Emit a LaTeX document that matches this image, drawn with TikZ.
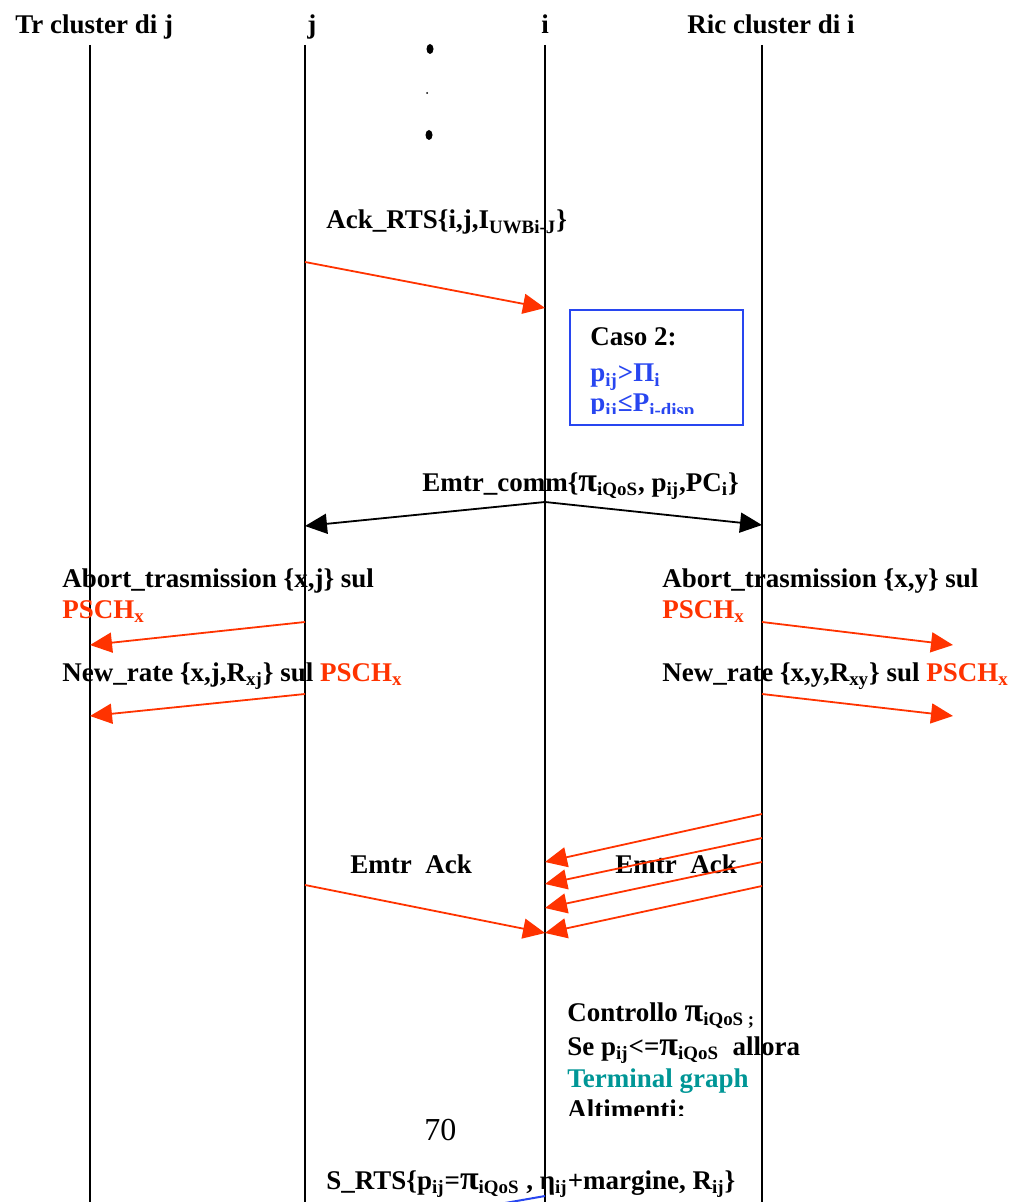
\documentclass[tikz,border=0pt]{standalone}
\usepackage{fontspec}
\setmainfont{Liberation Serif}
\usetikzlibrary{arrows.meta}
\definecolor{msgred}{RGB}{255,51,0}
\definecolor{boxblue}{RGB}{40,70,240}
\definecolor{tealtxt}{RGB}{0,150,150}
\newcommand{\sbs}[1]{\textsubscript{#1}}
\newcommand{\bigpi}{{\fontsize{17}{18}\selectfont π}}
\tikzset{
  txt/.style={anchor=base west, inner sep=0pt, font=\fontsize{13.5}{16}\selectfont\bfseries},
  life/.style={line width=1pt},
  redmsg/.style={draw=msgred, line width=0.9pt, -{Triangle[length=11pt,width=10pt]}},
  blkmsg/.style={line width=0.9pt, -{Triangle[length=11pt,width=10pt]}},
}
\begin{document}
\begin{tikzpicture}[x=0.5pt,y=-0.5pt]
		\useasboundingbox (0,0) rectangle (1023,1202);
		% header of each lifeline
		\node[txt] (hTr) at (15,34) {Tr cluster di j};
		\node[txt] (hj) at (307,34) {j};
		\node[txt] (hi) at (541,34) {i};
		\node[txt] (hRic) at (687,34) {Ric cluster di i};
		\foreach \n/\x in {tr/90,j/305,i/545,ric/762} {
			\coordinate (\n top) at (\x,45);
			\coordinate (\n bot) at (\x,1210);
			\draw[life] (\n top) -- (\n bot);
		}
		% dots
		\fill (430,49) ellipse [x radius=3.5, y radius=5];
		\fill (427,93) circle [radius=1];
		\fill (429,135) ellipse [x radius=3.5, y radius=5];
		% Ack_RTS
		\node[txt] (ackrts) at (326,229) {Ack\_RTS\{i,j,I\sbs{UWBi-J}\}};
		\coordinate (jA) at (305,262);
		\coordinate (iA) at (545,308);
		\draw[redmsg] (jA) -- (iA);
		% caso 2
		\begin{scope}
			\clip (570,310) rectangle (743,414);
			\node[txt] (caso) at (590,346) {Caso 2:};
			\node[txt, text=boxblue] (cond1) at (590,382) {p\sbs{ij}>Π\sbs{i}};
			\node[txt, text=boxblue] (cond2) at (590,412) {p\sbs{ij}≤P\sbs{i-disp}};
		\end{scope}
		\draw[boxblue, line width=1pt] (570,310) rectangle (743,425);
		% Emtr_comm
		\node[txt] (comm) at (422,491) {Emtr\_comm\{\bigpi\sbs{iQoS}, p\sbs{ij},PC\sbs{i}\}};
		\coordinate (iC) at (545,502);
		\coordinate (jC) at (305,526);
		\coordinate (ricC) at (762,525);
		\draw[blkmsg] (iC) -- (jC);
		\draw[blkmsg] (iC) -- (ricC);
		% abort and new rate, left side
		\node[txt] (abortL) at (62,587) {Abort\_trasmission \{x,j\} sul};
		\node[txt, text=msgred] (pschL) at (62,618) {PSCH\sbs{x}};
		\node[txt] (rateL) at (62,681) {New\_rate \{x,j,R\sbs{xj}\} sul \textcolor{msgred}{PSCH\sbs{x}}};
		\coordinate (jD) at (305,622);
		\coordinate (trD) at (90,645);
		\coordinate (jE) at (305,694);
		\coordinate (trE) at (90,716);
		\draw[redmsg] (jD) -- (trD);
		\draw[redmsg] (jE) -- (trE);
		% abort and new rate, right side
		\node[txt] (abortR) at (662,587) {Abort\_trasmission \{x,y\} sul};
		\node[txt, text=msgred] (pschR) at (662,618) {PSCH\sbs{x}};
		\node[txt] (rateR) at (662,681) {New\_rate \{x,y,R\sbs{xy}\} sul \textcolor{msgred}{PSCH\sbs{x}}};
		\coordinate (ricD) at (762,622);
		\coordinate (outD) at (953,645);
		\coordinate (ricE) at (762,694);
		\coordinate (outE) at (953,716);
		\draw[redmsg] (ricD) -- (outD);
		\draw[redmsg] (ricE) -- (outE);
		% Emtr Ack
		\node[txt] (ackL) at (350,873) {Emtr\ \ Ack};
		\node[txt] (ackR) at (615,873) {Emtr\ \ Ack};
		\coordinate (jF) at (305,885);
		\coordinate (iF) at (545,933);
		\draw[redmsg] (jF) -- (iF);
		\foreach \k/\ya/\yb in {1/814/862,2/838/884,3/862/908,4/886/933} {
			\coordinate (ric\k) at (762,\ya);
			\coordinate (i\k) at (545,\yb);
			\draw[redmsg] (ric\k) -- (i\k);
		}
		% controllo
		\begin{scope}
			\clip (560,990) rectangle (800,1115);
			\node[txt] (ctrl1) at (567,1021) {Controllo \bigpi\sbs{iQoS ;}};
			\node[txt] (ctrl2) at (567,1055) {Se p\sbs{ij}<=\bigpi\sbs{iQoS}\ \ allora};
			\node[txt, text=tealtxt] (ctrl3) at (567,1087) {Terminal graph};
			\node[txt] (ctrl4) at (567,1118) {Altimenti:};
		\end{scope}
		\node[anchor=base west, inner sep=0pt, font=\fontsize{16}{18}\selectfont] (pag) at (424,1140) {70};
		% S_RTS
		\node[txt] (srts) at (326,1189) {S\_RTS\{p\sbs{ij}=\bigpi\sbs{iQoS} , η\sbs{ij}+margine, R\sbs{ij}\}};
		\coordinate (iG) at (545,1196);
		\coordinate (outG) at (488,1206);
		\draw[boxblue, line width=1pt] (iG) -- (outG);
\end{tikzpicture}
\end{document}
